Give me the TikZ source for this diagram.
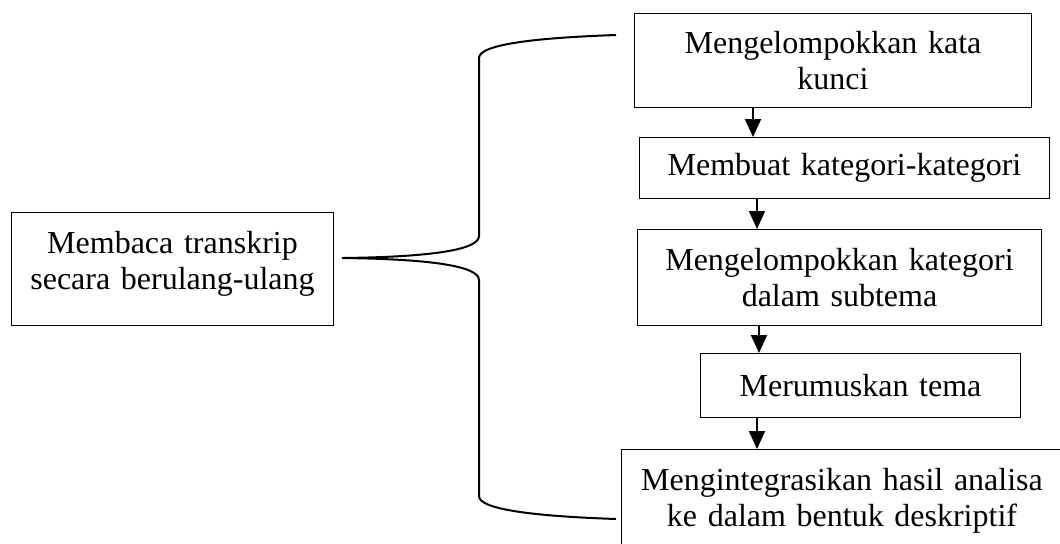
\documentclass[tikz,border=0pt]{standalone}
\usepackage{fontspec}
\setmainfont{Liberation Serif}
\usetikzlibrary{arrows.meta}
\begin{document}
\begin{tikzpicture}[x=0.5pt,y=-0.5pt,
  box/.style={draw, line width=0.5pt, align=center, inner sep=0pt, anchor=north west,
    font=\fontsize{16}{18}\selectfont},
  arr/.style={line width=1pt, -{Triangle[length=9pt,width=8pt]}},
  brace/.style={line width=1pt}]
\useasboundingbox (0,0) rectangle (1060,543);
\clip (0,0) rectangle (1060,543);
\node[box, minimum width=161pt, minimum height=56.5pt, text width=161pt] (l) at (11,212) {Membaca transkrip\\secara berulang-ulang\rule[-8.5pt]{0pt}{8.5pt}};
\node[box, minimum width=198.5pt, minimum height=47pt, text width=198.5pt] (b1) at (634,13) {Mengelompokkan kata\\kunci};
\node[box, minimum width=205pt, minimum height=30.5pt, text width=205pt] (b2) at (639,137) {Membuat kategori-kategori};
\node[box, minimum width=202pt, minimum height=48pt, text width=202pt] (b3) at (637,229) {Mengelompokkan kategori\\dalam subtema};
\node[box, minimum width=160pt, minimum height=32pt, text width=160pt] (b4) at (700,353) {Merumuskan tema};
\node[box, minimum width=220.5pt, minimum height=51.5pt, text width=220.5pt] (b5) at (621,449) {Mengintegrasikan hasil analisa\\ke dalam bentuk deskriptif};
\coordinate (c1) at (753,0);
\coordinate (c2) at (757,0);
\coordinate (c3) at (759,0);
\coordinate (c4) at (757,0);
\draw[arr] (b1.south -| c1) -- (b2.north -| c1);
\draw[arr] (b2.south -| c2) -- (b3.north -| c2);
\draw[arr] (b3.south -| c3) -- (b4.north -| c3);
\draw[arr] (b4.south -| c4) -- (b5.north -| c4);
\coordinate (tip) at (342,258);
\draw[brace] (616,35) .. controls (530,38) and (479,45) .. (479,58) -- (479,236)
  .. controls (479,250) and (430,257) .. (tip)
  .. controls (430,259) and (479,266) .. (479,280) -- (479,496)
  .. controls (479,509) and (530,516) .. (616,519);
\end{tikzpicture}
\end{document}
